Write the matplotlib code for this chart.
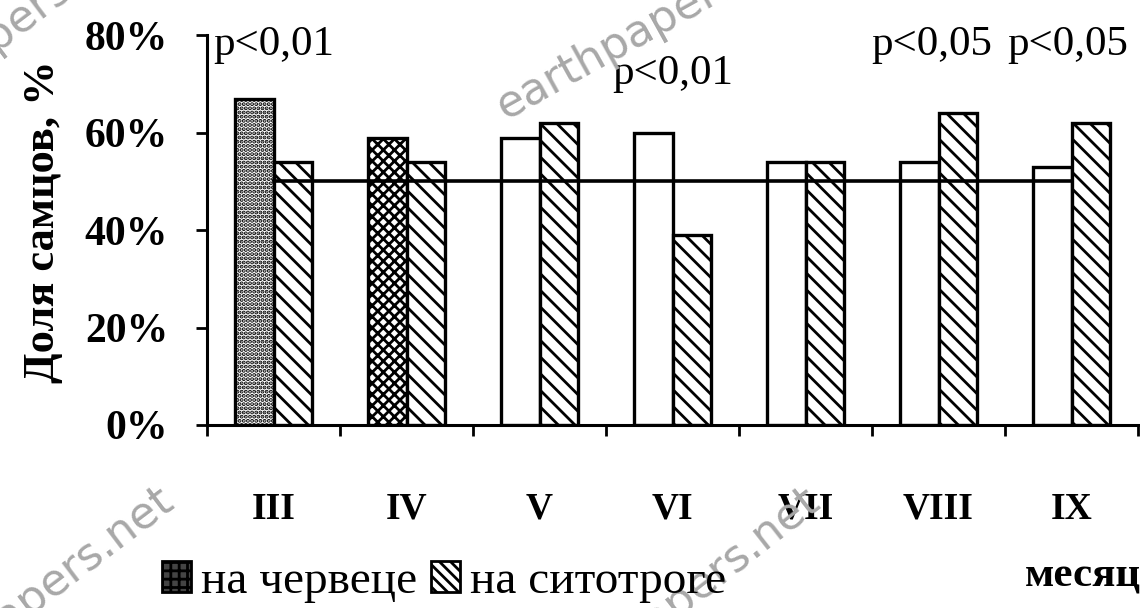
import matplotlib
matplotlib.use("Agg")
import matplotlib.pyplot as plt
import numpy as np
from matplotlib.patches import Patch

# --- data ---
MONTHS = ["III", "IV", "V", "VI", "VII", "VIII", "IX"]
CHERVETS = [67, 59, 59, 60, 54, 54, 53]      # на червеце
SITOTROGA = [54, 54, 62, 39, 54, 64, 62]     # на ситотроге
EQUAL_LINE = [50, 50, 50, 50, 50, 50, 50]    # 1:1 sex ratio
P_NOTES = [(0, "p<0,01"), (3, "p<0,01"), (5, "p<0,05"), (6, "p<0,05")]
Y_TICKS = [0, 20, 40, 60, 80]

SERIF = ["Liberation Serif", "DejaVu Serif"]
plt.rcParams["font.family"] = SERIF
plt.rcParams["hatch.linewidth"] = 2.0
plt.rcParams["hatch.color"] = "black"

fig = plt.figure(figsize=(11.4, 6.08), dpi=100)
ax = fig.add_axes([0.1816, 0.301, 0.8167, 0.641])
ax.patch.set_alpha(0)

x = np.arange(len(MONTHS))
w = 0.29
# scanned stipple: dark in III/IV, almost lost in the rest
cherv_hatch = ["....", "xxx", "", "", "", "", ""]
bars = ax.bar(x - w / 2, CHERVETS, w, facecolor="white", edgecolor="black",
              linewidth=2.4, zorder=2)
for b, h in zip(bars, cherv_hatch):
    b.set_hatch(h)
ax.bar(x + w / 2, SITOTROGA, w, facecolor="white", edgecolor="black",
       linewidth=2.4, hatch="\\\\", zorder=2)
ax.plot(x, EQUAL_LINE, color="black", linewidth=2.6, zorder=3)

ax.set_xlim(-0.5, len(MONTHS) - 0.5)
ax.set_ylim(0, 80)
for s in ("top", "right"):
    ax.spines[s].set_visible(False)
for s in ("left", "bottom"):
    ax.spines[s].set_linewidth(2.2)

ax.set_yticks(Y_TICKS)
ax.set_yticklabels([f"{v}%" for v in Y_TICKS], fontsize=30, fontweight="bold")
ax.tick_params(axis="y", direction="out", length=8, width=2, pad=20)

ax.set_xticks(x)
ax.set_xticklabels(MONTHS, fontsize=27, fontweight="bold")
ax.set_xticks(np.arange(-0.5, len(MONTHS)), minor=True)
ax.tick_params(axis="x", which="major", length=0, pad=48)
ax.tick_params(axis="x", which="minor", direction="out", length=8, width=2)

p_pos = {0: (0.0, 78), 3: (0.0, 72), 5: (-0.05, 78), 6: (-0.03, 78)}
for i, txt in P_NOTES:
    dx, yy = p_pos[i]
    ax.text(i + dx, yy, txt, ha="center", va="center", fontsize=31)

fig.text(0.038, 0.635, "Доля самцов, %", rotation=90, ha="center", va="center",
         fontsize=32, fontweight="bold")
fig.text(0.899, 0.051, "месяц", ha="left", va="center", fontsize=31,
         fontweight="bold")

handles = [Patch(facecolor="#444444", edgecolor="black", hatch="++", linewidth=2),
           Patch(facecolor="white", edgecolor="black", hatch="\\\\\\", linewidth=2)]
fig.legend(handles, ["на червеце", "на ситотроге"], loc="lower left",
           bbox_to_anchor=(0.138, 0.0), frameon=False, ncol=2, fontsize=34,
           handlelength=0.62, handleheight=0.62, handletextpad=0.2,
           columnspacing=0.3, borderpad=0.1, borderaxespad=0.0)

# scanner watermarks
wm = dict(color="#a8a8a8", fontsize=32, family="DejaVu Sans",
          rotation_mode="anchor", va="baseline", zorder=0)
fig.text(505 / 1140, 1 - 120 / 608, "earthpapers.net", ha="left", rotation=29, **wm)
fig.text(176 / 1140, 1 - 505 / 608, "earthpapers.net", ha="right", rotation=37, **wm)
fig.text(822 / 1140, 1 - 505 / 608, "earthpapers.net", ha="right", rotation=38, **wm)
fig.text(-4 / 1140, 1 - 52 / 608, "pers.net", ha="left", rotation=37, **wm)

fig.savefig("out.png", dpi=100)
